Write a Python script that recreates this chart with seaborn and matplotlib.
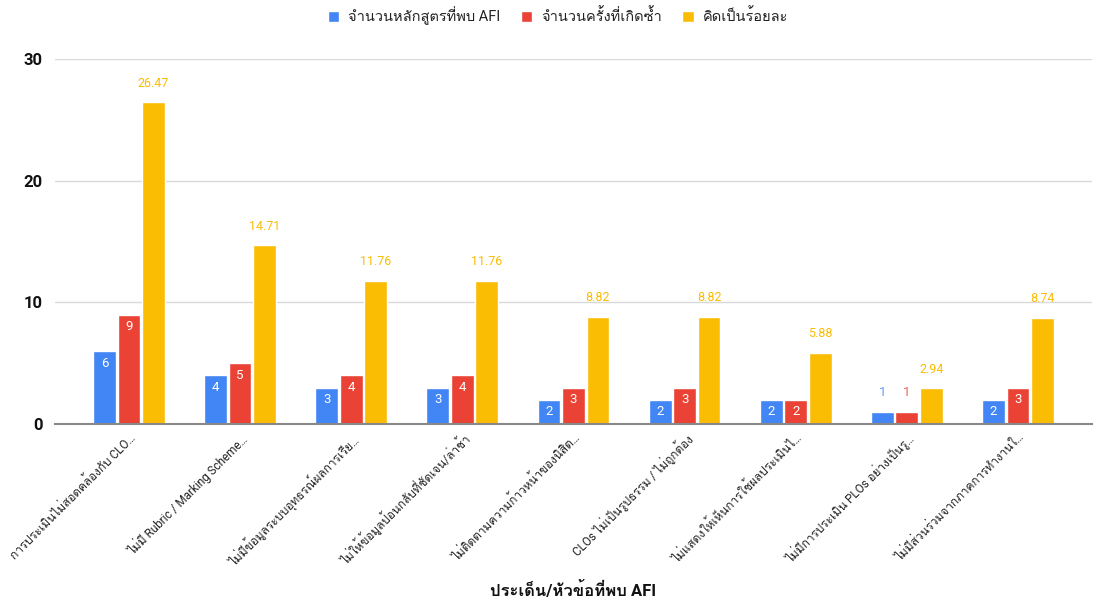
import numpy as np
import pandas as pd
import matplotlib
matplotlib.use("Agg")
import matplotlib.pyplot as plt
import seaborn as sns
from matplotlib import font_manager
from matplotlib.ft2font import FT2Font

categories = [
    "การประเมินไม่สอดคล้องกับ CLO…",
    "ไม่มี Rubric / Marking Scheme…",
    "ไม่มีข้อมูลระบบอุทธรณ์ผลการเรีย…",
    "ไม่ให้ข้อมูลป้อนกลับที่ชัดเจน/ล่าช้า",
    "ไม่ติดตามความก้าวหน้าของนิสิต…",
    "CLOs ไม่เป็นรูปธรรม / ไม่ถูกต้อง",
    "ไม่แสดงให้เห็นการใช้ผลประเมินไ…",
    "ไม่มีการประเมิน PLOs อย่างเป็นรู…",
    "ไม่มีส่วนร่วมจากภาคการทำงานใ…",
]
series_names = ["จำนวนหลักสูตรที่พบ AFI", "จำนวนครั้งที่เกิดซ้ำ", "คิดเป็นร้อยละ"]
programs = [6, 4, 3, 3, 2, 2, 2, 1, 2]
repeats = [9, 5, 4, 4, 3, 3, 2, 1, 3]
percent = [26.47, 14.71, 11.76, 11.76, 8.82, 8.82, 5.88, 2.94, 8.74]
x_title = "ประเด็น/หัวข้อที่พบ AFI"
colors = ["#4285F4", "#EA4335", "#FBBC04"]

# find a font with Thai glyphs
thai_font = None
for fe in font_manager.fontManager.ttflist:
    try:
        f = FT2Font(fe.fname)
        cm = f.get_charmap()
        if 0x0E01 in cm and 0x0E33 in cm:
            thai_font = fe.name
            if "Sans" in fe.name or "Loma" in fe.name:
                break
    except Exception:
        pass

sns.set_theme(style="white")
fam = ["Roboto"] + ([thai_font] if thai_font else []) + ["DejaVu Sans"]
plt.rcParams["font.family"] = fam

df = pd.DataFrame({
    "cat": categories * 3,
    "series": [series_names[0]] * 9 + [series_names[1]] * 9 + [series_names[2]] * 9,
    "value": programs + repeats + percent,
})

fig = plt.figure(figsize=(10.93, 6.03), dpi=100)
ax = fig.add_axes([0.0503, 0.2968, 0.9487, 0.6052])
sns.barplot(data=df, x="cat", y="value", hue="series", palette=colors,
            width=0.66, gap=0.07, ax=ax, legend=True, saturation=1)

ax.set_ylim(0, 30)
ax.set_xlim(-0.665, 8.665)
ax.set_yticks([0, 10, 20, 30])
ax.yaxis.grid(True, color="#d9d9d9", linewidth=1)
ax.set_axisbelow(True)
for s in ["top", "right", "left"]:
    ax.spines[s].set_visible(False)
ax.spines["bottom"].set_color("#888888")
ax.spines["bottom"].set_linewidth(1.5)
ax.tick_params(axis="y", length=0, pad=9, labelsize=12)
for t in ax.get_yticklabels():
    t.set_fontweight("bold")
    t.set_color("#111111")
ax.tick_params(axis="x", length=0, pad=5)
ax.set_xticks(range(len(categories)))
ax.set_xticklabels(categories, rotation=45, ha="right", rotation_mode="anchor",
                   fontsize=8.5, color="#222222")
ax.set_ylabel("")
ax.set_xlabel(x_title, fontsize=12, fontweight="bold", color="#111111")
ax.xaxis.label.set_va("center")
ax.xaxis.set_label_coords(0.5, -0.455)

# data labels
for ci, cont in enumerate(ax.containers):
    for bar in cont:
        h = bar.get_height()
        cx = bar.get_x() + bar.get_width() / 2
        if ci == 2:
            ax.annotate(f"{h:.2f}", (cx, h), xytext=(0, 9), textcoords="offset points",
                        ha="center", va="bottom", fontsize=9, color=colors[2])
        elif h >= 1.5:
            ax.annotate(f"{h:g}", (cx, h), xytext=(0, -4), textcoords="offset points",
                        ha="center", va="top", fontsize=9.5, color="white")
        else:
            ax.annotate(f"{h:g}", (cx, h), xytext=(0, 9), textcoords="offset points",
                        ha="center", va="bottom", fontsize=9.5, color=colors[ci], alpha=0.8)

leg = ax.legend(loc="upper center", bbox_to_anchor=(0.485, 1.18), ncol=3, frameon=False,
                fontsize=10.5, handlelength=0.8, handleheight=0.8, handletextpad=0.6,
                columnspacing=1.4)
for t in leg.get_texts():
    t.set_color("#222222")

fig.savefig("out.png", dpi=100)
